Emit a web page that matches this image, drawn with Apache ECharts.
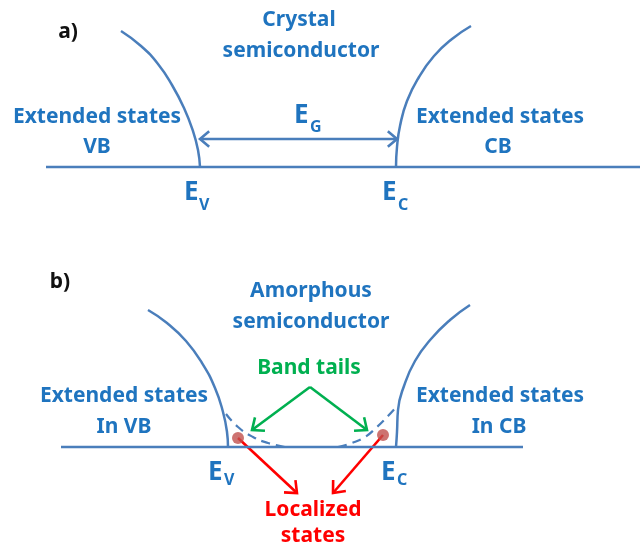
<!DOCTYPE html>
<html>
<head>
<meta charset="utf-8">
<title>Crystal vs amorphous semiconductor</title>
<script src="https://cdn.jsdelivr.net/npm/echarts@6/dist/echarts.min.js"></script>
<style>
  html, body { margin: 0; padding: 0; background: #fff; }
  #chart { width: 640px; height: 552px; }
</style>
</head>
<body>
<div id="chart"></div>
<script>
// --- data (page pixel units) ---
// a) crystal
const aValenceEdge = [[121, 31], [141, 46], [158, 64], [172, 85], [184, 108], [193, 131], [198, 150], [200, 167]]
const aConductionEdge = [[471, 26], [452, 39], [434, 56], [419, 77], [407, 101], [400, 126], [397, 147], [396, 167]]
const aBaseline = [[46, 167], [640, 167]]
// b) amorphous
const bValenceEdge = [[148, 310], [167, 323], [186, 341], [202, 363], [215, 388], [223, 412], [227, 432], [228, 447]]
const bConductionEdge = [[470, 305], [450, 320], [431, 339], [415, 361], [404, 386], [398, 410], [397, 432], [396, 447]]
const bBaseline = [[61, 447], [523, 447]]
const valenceTail = [[226, 414], [238, 427], [253, 437], [268, 443], [285, 447]]
const conductionTail = [[338, 447], [352, 443], [365, 437], [377, 427], [388, 416], [397, 406]]
const localizedDots = [[238, 438], [383, 435]]

// arrows: x1, y1, x2, y2 (head at x2,y2)
const gapArrow = [[200, 139, 397, 139]]
const tailArrows = [[310, 387, 252, 430], [310, 387, 367, 430]]
const localizedArrows = [[238, 438, 297, 493], [383, 435, 333, 493]]

// labels: x, y, text
const blueLabels = [
  [299, 20, 'Crystal'], [301, 51, 'semiconductor'],
  [97, 117, 'Extended states'], [97, 147, 'VB'],
  [500, 117, 'Extended states'], [498, 147, 'CB'],
  [311, 291, 'Amorphous'], [311, 322, 'semiconductor'],
  [124, 396, 'Extended states'], [124, 427, 'In VB'],
  [500, 396, 'Extended states'], [499, 427, 'In CB']
]
const energyLabels = [
  [184, 193, 'E'], [382, 193, 'E'], [294, 116, 'E'],
  [208, 473, 'E'], [381, 473, 'E']
]
const energySubs = [
  [199, 205, 'V'], [398, 205, 'C'], [310, 127, 'G'],
  [224, 480, 'V'], [397, 480, 'C']
]
const greenLabels = [[309, 368, 'Band tails']]
const redLabels = [[313, 510, 'Localized'], [313, 536, 'states']]
const panelLabels = [[68, 32, 'a)'], [60, 282, 'b)']]

const BLUE_LINE = '#4a7ebb'
const BLUE_TEXT = '#1f74bf'
const GREEN = '#00b050'
const RED = '#ff0000'
const FONT = '"Noto Sans", sans-serif'

function curve(data, dashed) {
  return {
    type: 'line',
    data: data,
    smooth: 0.5,
    showSymbol: false,
    silent: true,
    lineStyle: { color: BLUE_LINE, width: dashed ? 2.2 : 2.5, type: dashed ? [9, 6] : 'solid' }
  }
}

// open chevron head at "to"
function head(from, to, color, len) {
  const ang = Math.atan2(to[1] - from[1], to[0] - from[0])
  const spread = 0.7
  const a1 = ang + Math.PI - spread
  const a2 = ang + Math.PI + spread
  return {
    type: 'polyline',
    shape: {
      points: [
        [to[0] + len * Math.cos(a1), to[1] + len * Math.sin(a1)],
        to,
        [to[0] + len * Math.cos(a2), to[1] + len * Math.sin(a2)]
      ]
    },
    style: { stroke: color, fill: null, lineWidth: 2.6 }
  }
}

function arrows(data, color, twoSided, len) {
  return {
    type: 'custom',
    data: data,
    silent: true,
    renderItem: function (params, api) {
      const p1 = api.coord([api.value(0), api.value(1)])
      const p2 = api.coord([api.value(2), api.value(3)])
      const children = [{
        type: 'line',
        shape: { x1: p1[0], y1: p1[1], x2: p2[0], y2: p2[1] },
        style: { stroke: color, lineWidth: 2.6 }
      }, head(p1, p2, color, len)]
      if (twoSided) children.push(head(p2, p1, color, len))
      return { type: 'group', children: children }
    }
  }
}

function labels(data, color, size, align) {
  return {
    type: 'custom',
    data: data,
    silent: true,
    renderItem: function (params, api) {
      const p = api.coord([api.value(0), api.value(1)])
      return {
        type: 'text',
        x: p[0],
        y: p[1],
        style: {
          text: data[params.dataIndex][2],
          fill: color,
          font: 'bold ' + size + 'px ' + FONT,
          align: align || 'center',
          verticalAlign: 'middle'
        }
      }
    }
  }
}

const chart = echarts.init(document.getElementById('chart'))
chart.setOption({
  animation: false,
  backgroundColor: '#fff',
  grid: { left: 0, right: 0, top: 0, bottom: 0 },
  xAxis: { type: 'value', min: 0, max: 640, show: false },
  yAxis: { type: 'value', min: 0, max: 552, inverse: true, show: false },
  series: [
    curve(aBaseline), curve(aValenceEdge), curve(aConductionEdge),
    curve(bBaseline), curve(bValenceEdge), curve(bConductionEdge),
    curve(valenceTail, true), curve(conductionTail, true),
    arrows(gapArrow, BLUE_LINE, true, 12),
    arrows(tailArrows, GREEN, false, 13),
    arrows(localizedArrows, RED, false, 13),
    {
      type: 'scatter',
      data: localizedDots,
      symbolSize: 12,
      silent: true,
      itemStyle: { color: '#c0504d' },
      z: 5
    },
    labels(blueLabels, BLUE_TEXT, 21),
    labels(energyLabels, BLUE_TEXT, 26, 'left'),
    labels(energySubs, BLUE_TEXT, 16, 'left'),
    labels(greenLabels, GREEN, 21),
    labels(redLabels, RED, 21),
    labels(panelLabels, '#111', 21)
  ]
})
</script>
</body>
</html>
